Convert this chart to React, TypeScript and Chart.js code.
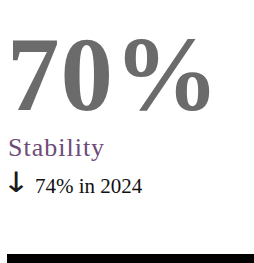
import React, { useEffect, useRef } from "react";
import { Chart, registerables } from "chart.js";

Chart.register(...registerables);

const kpiValue = "70%";
const kpiLabel = "Stability";
const trendArrow = "↓";
const trendText = "74% in 2024";
const barCategories = ["Stability"];
const barValues = [100];

export default function App() {
  const ref = useRef<HTMLCanvasElement | null>(null);
  useEffect(() => {
    if (!ref.current) return;
    const chart = new Chart(ref.current, {
      type: "bar",
      data: {
        labels: barCategories,
        datasets: [
          {
            data: barValues,
            backgroundColor: "#000000",
            borderWidth: 0,
            barPercentage: 1,
            categoryPercentage: 1,
          },
        ],
      },
      options: {
        indexAxis: "y",
        animation: false,
        responsive: true,
        maintainAspectRatio: false,
        layout: { padding: 0 },
        plugins: { legend: { display: false }, tooltip: { enabled: false } },
        scales: {
          x: { display: false, min: 0, max: 100 },
          y: { display: false },
        },
      },
    });
    return () => chart.destroy();
  }, []);

  const serif = "'Liberation Serif', 'DejaVu Serif', serif";
  return (
    <div style={{ position: "absolute", left: 0, top: 0, width: 254, height: 263, overflow: "hidden", background: "#fff" }}>
      <div style={{ position: "absolute", left: 7, top: 22, fontFamily: serif, fontWeight: 700, fontSize: 105, lineHeight: 1, letterSpacing: 1, color: "#6b6b6b", whiteSpace: "nowrap" }}>
        {kpiValue}
      </div>
      <div style={{ position: "absolute", left: 8, top: 135, fontFamily: serif, fontSize: 26, lineHeight: 1, letterSpacing: 1, color: "#6e4a78", whiteSpace: "nowrap" }}>
        {kpiLabel}
      </div>
      <div style={{ position: "absolute", left: 2, top: 169, fontFamily: "'DejaVu Sans', sans-serif", fontSize: 28, lineHeight: 1, color: "#1a1a1a", transform: "scaleX(1.2)", transformOrigin: "left top" }}>
        {trendArrow}
      </div>
      <div style={{ position: "absolute", left: 35, top: 176, fontFamily: serif, fontSize: 21, lineHeight: 1, color: "#111", whiteSpace: "nowrap" }}>
        {trendText}
      </div>
      <div style={{ position: "absolute", left: 7, top: 254, width: 247, height: 20 }}>
        <canvas ref={ref} />
      </div>
    </div>
  );
}
